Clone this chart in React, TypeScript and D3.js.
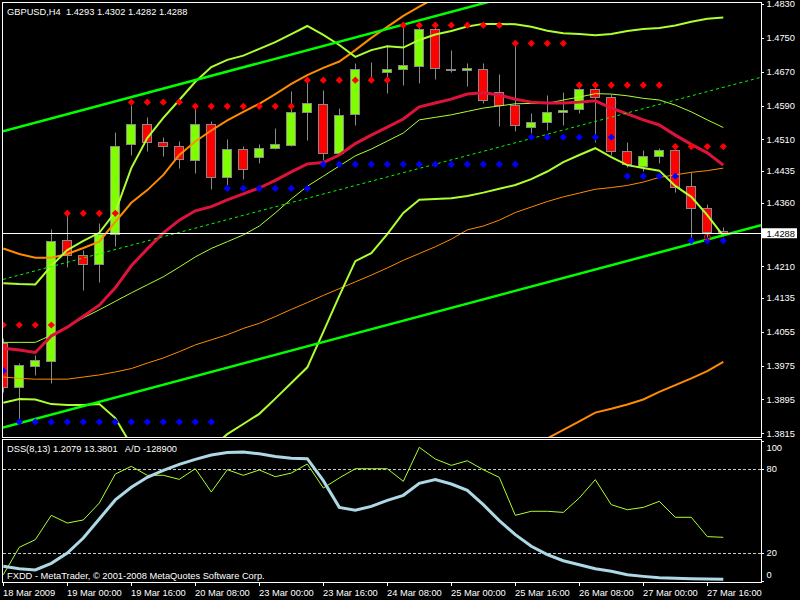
import React from "react";
import * as d3 from "d3";

// ---------- DATA ----------
const symbolHeader = "GBPUSD,H4  1.4293 1.4302 1.4282 1.4288";
const dssHeader = "DSS(8,13) 1.2079 13.3801   A/D -128900";
const copyright = "FXDD - MetaTrader, \u00A9 2001-2008 MetaQuotes Software Corp.";

const timeLabels = ["18 Mar 2009", "19 Mar 00:00", "19 Mar 16:00", "20 Mar 08:00", "23 Mar 00:00", "23 Mar 16:00", "24 Mar 08:00", "25 Mar 00:00", "25 Mar 16:00", "26 Mar 08:00", "27 Mar 00:00", "27 Mar 16:00"];
const timeLabelBars = [0, 4, 8, 12, 16, 20, 24, 28, 32, 36, 40, 44];
const priceTicks = [1.4830, 1.4750, 1.4670, 1.4590, 1.4510, 1.4435, 1.4360, 1.4210, 1.4135, 1.4055, 1.3975, 1.3895, 1.3815];
const lastPrice = 1.4288;
const dssTicks = [100, 80, 20, 0];
const dssLevels = [80, 20];

const opens = [1.4029, 1.3925, 1.3975, 1.3985, 1.4272, 1.4237, 1.4215, 1.4286, 1.4498, 1.4546, 1.4503, 1.4495, 1.4461, 1.4546, 1.4420, 1.4487, 1.4468, 1.4489, 1.4497, 1.4574, 1.4593, 1.4477, 1.4569, 1.4674, 1.4670, 1.4677, 1.4684, 1.4770, 1.4676, 1.4673, 1.4676, 1.4623, 1.4591, 1.4540, 1.4550, 1.4574, 1.4581, 1.4628, 1.4611, 1.4483, 1.4448, 1.4470, 1.4484, 1.4400, 1.4347, 1.4293];
const highs = [1.4040, 1.3982, 1.4000, 1.4297, 1.4335, 1.4248, 1.4312, 1.4527, 1.4591, 1.4564, 1.4516, 1.4506, 1.4587, 1.4553, 1.4511, 1.4494, 1.4498, 1.4536, 1.4624, 1.4650, 1.4627, 1.4583, 1.4690, 1.4693, 1.4733, 1.4776, 1.4780, 1.4780, 1.4721, 1.4690, 1.4691, 1.4665, 1.4733, 1.4572, 1.4615, 1.4621, 1.4639, 1.4633, 1.4617, 1.4503, 1.4485, 1.4489, 1.4493, 1.4432, 1.4357, 1.4302];
const lows = [1.3913, 1.3848, 1.3952, 1.3933, 1.4209, 1.4154, 1.4173, 1.4259, 1.4473, 1.4483, 1.4471, 1.4443, 1.4430, 1.4393, 1.4397, 1.4417, 1.4453, 1.4487, 1.4495, 1.4509, 1.4461, 1.4473, 1.4544, 1.4658, 1.4620, 1.4639, 1.4644, 1.4653, 1.4669, 1.4635, 1.4596, 1.4542, 1.4530, 1.4524, 1.4532, 1.4544, 1.4572, 1.4504, 1.4473, 1.4445, 1.4436, 1.4453, 1.4386, 1.4276, 1.4276, 1.4282];
const closes = [1.3925, 1.3977, 1.3988, 1.4270, 1.4236, 1.4215, 1.4286, 1.4495, 1.4546, 1.4504, 1.4494, 1.4463, 1.4546, 1.4420, 1.4487, 1.4439, 1.4489, 1.4498, 1.4574, 1.4595, 1.4477, 1.4567, 1.4676, 1.4673, 1.4676, 1.4685, 1.4770, 1.4679, 1.4674, 1.4678, 1.4603, 1.4591, 1.4543, 1.4550, 1.4574, 1.4579, 1.4628, 1.4611, 1.4483, 1.4451, 1.4471, 1.4484, 1.4398, 1.4347, 1.4290, 1.4288];

// Bollinger bands (short) - yellow-green
const bbUpper = [1.4170, 1.4168, 1.4167, 1.4211, 1.4248, 1.4270, 1.4289, 1.4338, 1.4442, 1.4513, 1.4561, 1.4603, 1.4646, 1.4681, 1.4698, 1.4708, 1.4724, 1.4740, 1.4759, 1.4778, 1.4757, 1.4733, 1.4705, 1.4721, 1.4730, 1.4727, 1.4745, 1.4758, 1.4766, 1.4777, 1.4783, 1.4783, 1.4782, 1.4776, 1.4767, 1.4761, 1.4759, 1.4756, 1.4759, 1.4766, 1.4771, 1.4773, 1.4779, 1.4788, 1.4795, 1.4798];
const bbMiddle = [1.4030, 1.4030, 1.4030, 1.4047, 1.4067, 1.4088, 1.4107, 1.4127, 1.4147, 1.4166, 1.4185, 1.4208, 1.4232, 1.4252, 1.4268, 1.4284, 1.4305, 1.4336, 1.4369, 1.4399, 1.4423, 1.4447, 1.4471, 1.4487, 1.4506, 1.4525, 1.4556, 1.4562, 1.4568, 1.4576, 1.4584, 1.4589, 1.4594, 1.4595, 1.4595, 1.4603, 1.4610, 1.4618, 1.4617, 1.4613, 1.4607, 1.4603, 1.4591, 1.4575, 1.4556, 1.4538];
const bbLower = [1.3887, 1.3896, 1.3895, 1.3884, 1.3882, 1.3882, 1.3884, 1.3851, 1.3787, 1.3740, 1.3716, 1.3716, 1.3740, 1.3780, 1.3813, 1.3837, 1.3861, 1.3897, 1.3934, 1.3971, 1.4055, 1.4140, 1.4222, 1.4241, 1.4286, 1.4336, 1.4367, 1.4369, 1.4371, 1.4376, 1.4384, 1.4393, 1.4402, 1.4416, 1.4434, 1.4456, 1.4473, 1.4489, 1.4468, 1.4449, 1.4442, 1.4436, 1.4400, 1.4374, 1.4331, 1.4282];

// Long envelope - orange
const orUpper = [1.4252, 1.4239, 1.4230, 1.4230, 1.4239, 1.4253, 1.4268, 1.4315, 1.4360, 1.4390, 1.4426, 1.4473, 1.4505, 1.4531, 1.4555, 1.4575, 1.4594, 1.4617, 1.4641, 1.4662, 1.4679, 1.4694, 1.4721, 1.4750, 1.4776, 1.4802, 1.4824, 1.4844, 1.4868, 1.4892, 1.4892, 1.4901, 1.4918, 1.4920, 1.4922, 1.4925, 1.4923, 1.4919, 1.4920, 1.4920, 1.4922, 1.4927, 1.4922, 1.4919, 1.4910, 1.4899];
const orMiddle = [1.3948, 1.3945, 1.3943, 1.3943, 1.3943, 1.3948, 1.3953, 1.3960, 1.3968, 1.3981, 1.3993, 1.4008, 1.4024, 1.4036, 1.4048, 1.4063, 1.4075, 1.4091, 1.4108, 1.4124, 1.4141, 1.4157, 1.4173, 1.4189, 1.4206, 1.4224, 1.4240, 1.4256, 1.4274, 1.4296, 1.4305, 1.4319, 1.4337, 1.4350, 1.4363, 1.4374, 1.4383, 1.4392, 1.4396, 1.4401, 1.4409, 1.4420, 1.4426, 1.4432, 1.4436, 1.4442];
const orLower = [1.3644, 1.3650, 1.3655, 1.3655, 1.3647, 1.3643, 1.3638, 1.3605, 1.3577, 1.3572, 1.3560, 1.3544, 1.3543, 1.3540, 1.3540, 1.3551, 1.3556, 1.3565, 1.3575, 1.3586, 1.3603, 1.3621, 1.3624, 1.3629, 1.3636, 1.3646, 1.3656, 1.3667, 1.3681, 1.3700, 1.3719, 1.3738, 1.3757, 1.3780, 1.3803, 1.3823, 1.3843, 1.3864, 1.3873, 1.3883, 1.3895, 1.3913, 1.3929, 1.3945, 1.3962, 1.3984];

// Moving average - crimson
const maLine = [1.4016, 1.4012, 1.4006, 1.4045, 1.4066, 1.4092, 1.4118, 1.4159, 1.4211, 1.4251, 1.4289, 1.4319, 1.4341, 1.4351, 1.4367, 1.4381, 1.4395, 1.4413, 1.4433, 1.4452, 1.4455, 1.4473, 1.4500, 1.4520, 1.4539, 1.4558, 1.4587, 1.4596, 1.4605, 1.4617, 1.4620, 1.4615, 1.4605, 1.4598, 1.4596, 1.4596, 1.4598, 1.4601, 1.4584, 1.4570, 1.4556, 1.4544, 1.4520, 1.4498, 1.4478, 1.4449];

// Resistance (red) / support (blue) levels
const resistance = [1.4071, 1.4071, 1.4071, 1.4071, 1.4335, 1.4335, 1.4335, 1.4335, 1.4598, 1.4598, 1.4598, 1.4598, 1.4588, 1.4588, 1.4588, 1.4588, 1.4588, 1.4588, 1.4588, 1.4650, 1.4650, 1.4650, 1.4650, 1.4650, 1.4650, 1.4780, 1.4780, 1.4780, 1.4780, 1.4780, 1.4780, 1.4780, 1.4737, 1.4737, 1.4737, 1.4737, 1.4638, 1.4638, 1.4638, 1.4638, 1.4638, 1.4638, 1.4493, 1.4493, 1.4493, 1.4493];
const support = [1.3963, 1.3842, 1.3842, 1.3842, 1.3842, 1.3842, 1.3842, 1.3842, 1.3842, 1.3842, 1.3842, 1.3842, 1.3842, 1.3842, 1.4394, 1.4394, 1.4394, 1.4394, 1.4394, 1.4394, 1.4451, 1.4451, 1.4451, 1.4451, 1.4451, 1.4451, 1.4451, 1.4451, 1.4451, 1.4451, 1.4451, 1.4451, 1.4451, 1.4515, 1.4515, 1.4515, 1.4515, 1.4515, 1.4515, 1.4423, 1.4423, 1.4423, 1.4423, 1.4270, 1.4270, 1.4270];
const alertBar = [44];
const alertPrice = [1.4279];

// Trend channel anchors (bar index, price)
const channelBars = [0, 45];
const channelUpper = [1.4529, 1.4983];
const channelMiddle = [1.4179, 1.4633];
const channelLower = [1.3829, 1.4283];

// DSS indicator window
const dssMain = [10.5, 8.8, 7.9, 12.6, 20.0, 30.7, 44.3, 57.9, 66.9, 74.1, 79.0, 83.3, 86.9, 90.0, 91.7, 92.1, 90.9, 89.0, 87.6, 87.4, 71.7, 52.6, 50.5, 53.3, 57.6, 61.2, 69.8, 72.4, 69.3, 64.8, 54.5, 43.1, 33.1, 24.8, 18.8, 14.5, 11.6, 8.8, 6.9, 4.5, 3.3, 2.3, 1.9, 1.6, 1.4, 1.2];
const dssSignal = [4.5, 24.1, 29.5, 46.9, 41.4, 43.6, 55.7, 76.4, 81.9, 75.5, 75.5, 72.6, 80.2, 63.6, 79.5, 75.5, 79.3, 74.5, 77.1, 83.6, 66.4, 73.6, 80.2, 80.2, 80.2, 71.2, 95.5, 87.1, 82.6, 85.9, 79.5, 74.0, 46.9, 49.8, 49.8, 49.0, 59.3, 72.4, 54.5, 50.9, 52.6, 56.9, 45.5, 45.5, 31.7, 31.2];

// ---------- STYLE ----------
const FONT = "'Liberation Sans', Arial, sans-serif";
const FS = 9.3;
const C = {
  bg: "#000000",
  frame: "#ffffff",
  text: "#ffffff",
  up: "#7FFF00",
  down: "#FF0000",
  outline: "#8a8a8a",
  channel: "#00FF00",
  yg: "#ADFF2F",
  orange: "#FF8C00",
  crimson: "#DC143C",
  dss: "#ADD8E6",
  level: "#c8c8c8",
};

const L = 3, R = 761, T = 2, MB = 437, IT = 440, IB = 582;

export default function App() {
  const x = d3.scaleLinear().domain([0, 45]).range([3.3, 723.3]);
  const y = d3.scaleLinear().domain([1.3815, 1.4830]).range([433.3, 4]);
  const yi = d3.scaleLinear().domain([0, 100]).range([581, 441]);

  const mk = (arr: number[], sc: d3.ScaleLinear<number, number>) =>
    d3.line<number>().x((_, i) => x(i)).y((d) => sc(d))(arr) || "";

  const chanLine = (anch: number[]) => {
    const p = d3.scaleLinear().domain(channelBars).range(anch);
    const b0 = x.invert(L), b1 = x.invert(R);
    return `M${L},${y(p(b0))}L${R},${y(p(b1))}`;
  };

  const px = (i: number) => Math.floor(x(i)) + 0.5;
  const py = (v: number) => Math.round(y(v)) + 0.5;

  const diamond = "M0,-3.6L3.6,0L0,3.6L-3.6,0Z";

  return (
    <svg width={800} height={600} style={{ position: "absolute", left: 0, top: 0, display: "block" }} fontFamily={FONT}>
      <defs>
        <clipPath id="mainClip"><rect x={L} y={T} width={R - L} height={MB - T} /></clipPath>
        <clipPath id="indClip"><rect x={L} y={IT} width={R - L} height={IB - IT} /></clipPath>
      </defs>
      <rect x={0} y={0} width={800} height={600} fill={C.bg} />

      {/* MAIN WINDOW */}
      <g clipPath="url(#mainClip)">
        {opens.map((o, i) => {
          const c = closes[i];
          const top = py(Math.max(o, c));
          const bot = py(Math.min(o, c));
          const cx = px(i);
          return (
            <g key={"c" + i}>
              <line x1={cx} x2={cx} y1={py(highs[i])} y2={py(lows[i])} stroke={C.outline} strokeWidth={1} />
              <rect x={cx - 5} y={top} width={9} height={Math.max(bot - top, 0)} fill={c >= o ? C.up : C.down} stroke={C.outline} strokeWidth={1} />
            </g>
          );
        })}

        <path d={mk(orUpper, y)} fill="none" stroke={C.orange} strokeWidth={2} />
        <path d={mk(orMiddle, y)} fill="none" stroke={C.orange} strokeWidth={1} />
        <path d={mk(orLower, y)} fill="none" stroke={C.orange} strokeWidth={2} />

        <path d={mk(bbUpper, y)} fill="none" stroke={C.yg} strokeWidth={2} />
        <path d={mk(bbMiddle, y)} fill="none" stroke={C.yg} strokeWidth={1} />
        <path d={mk(bbLower, y)} fill="none" stroke={C.yg} strokeWidth={2} />

        <path d={mk(maLine, y)} fill="none" stroke={C.crimson} strokeWidth={3} />

        <path d={chanLine(channelUpper)} stroke={C.channel} strokeWidth={2.5} fill="none" />
        <path d={chanLine(channelMiddle)} stroke={C.channel} strokeWidth={1} strokeDasharray="3,3" fill="none" />
        <path d={chanLine(channelLower)} stroke={C.channel} strokeWidth={2.5} fill="none" />

        {resistance.map((v, i) => v == null ? null : (
          <path key={"r" + i} d={diamond} transform={`translate(${x(i)},${y(v)})`} fill={C.down} />
        ))}
        {support.map((v, i) => v == null ? null : (
          <path key={"s" + i} d={diamond} transform={`translate(${x(i)},${y(v)})`} fill="#0000FF" />
        ))}
        {alertBar.map((b, k) => (
          <circle key={"a" + k} cx={x(b)} cy={y(alertPrice[k])} r={3} fill="none" stroke={C.down} strokeWidth={1} />
        ))}

        <line x1={L} x2={R} y1={py(lastPrice)} y2={py(lastPrice)} stroke={C.frame} strokeWidth={1} />
      </g>

      <rect x={L - 0.5} y={T + 0.5} width={R - L + 1} height={MB - T} fill="none" stroke={C.frame} strokeWidth={1} />
      <text x={7} y={14.5} fill={C.text} fontSize={FS} style={{ whiteSpace: "pre" }}>{symbolHeader}</text>

      {priceTicks.map((p) => (
        <g key={"p" + p}>
          <line x1={R} x2={R + 3} y1={py(p)} y2={py(p)} stroke={C.frame} />
          <text x={766.5} y={y(p) + 3.4} fill={C.text} fontSize={FS}>{p.toFixed(4)}</text>
        </g>
      ))}
      <rect x={762} y={y(lastPrice) - 5} width={35} height={10} fill="#ffffff" />
      <text x={766.5} y={y(lastPrice) + 3.4} fill="#000000" fontSize={FS}>{lastPrice.toFixed(4)}</text>

      {/* INDICATOR WINDOW */}
      <g clipPath="url(#indClip)">
        {dssLevels.map((lv) => (
          <line key={"lv" + lv} x1={L} x2={R} y1={Math.round(yi(lv)) + 0.5} y2={Math.round(yi(lv)) + 0.5} stroke={C.level} strokeWidth={1} strokeDasharray="3,2" />
        ))}
        <path d={mk(dssSignal, yi)} fill="none" stroke={C.yg} strokeWidth={1} />
        <path d={mk(dssMain, yi)} fill="none" stroke={C.dss} strokeWidth={3} />
      </g>
      <rect x={L - 0.5} y={IT - 0.5} width={R - L + 1} height={IB - IT + 1} fill="none" stroke={C.frame} strokeWidth={1} />
      <text x={7} y={452} fill={C.text} fontSize={FS} style={{ whiteSpace: "pre" }}>{dssHeader}</text>
      <text x={7} y={578.5} fill={C.text} fontSize={FS}>{copyright}</text>
      {dssTicks.map((v) => {
        const ty = Math.min(Math.max(yi(v) + 3.4, 450.5), 578);
        return (
          <g key={"d" + v}>
            <line x1={R} x2={R + 3} y1={Math.round(yi(v)) + 0.5} y2={Math.round(yi(v)) + 0.5} stroke={C.frame} />
            <text x={766.5} y={ty} fill={C.text} fontSize={FS}>{v}</text>
          </g>
        );
      })}

      {timeLabelBars.map((b, k) => {
        const tx = k === 0 ? 3.5 : px(b);
        return (
          <g key={"t" + b}>
            <line x1={tx} x2={tx} y1={IB} y2={IB + 4} stroke={C.frame} />
            <text x={tx - 0.5} y={596} fill={C.text} fontSize={FS}>{timeLabels[k]}</text>
          </g>
        );
      })}
    </svg>
  );
}
